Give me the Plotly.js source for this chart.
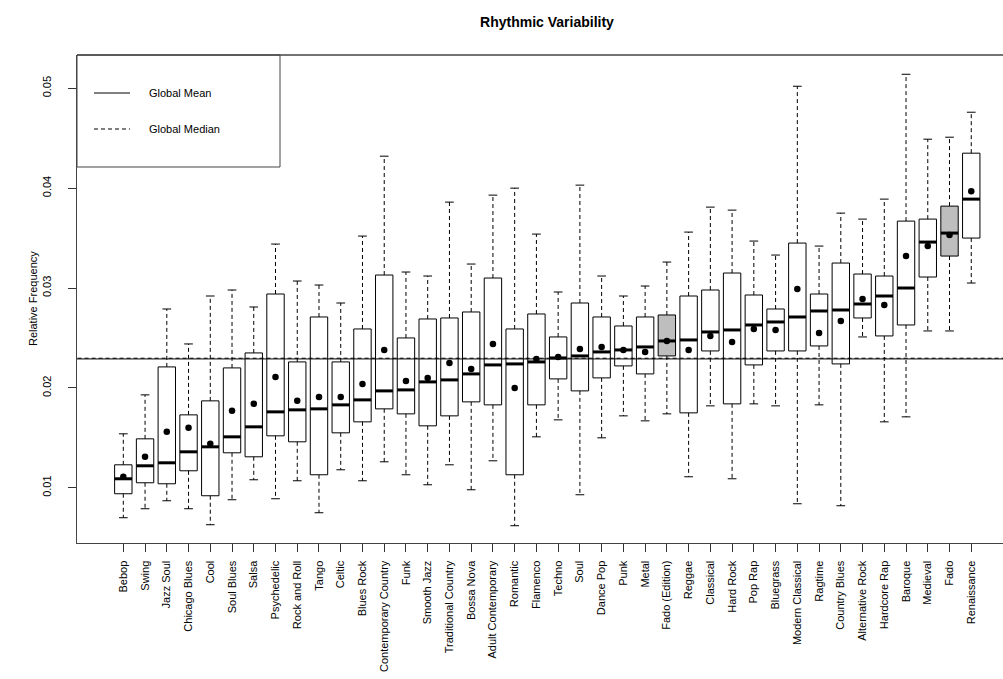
<!DOCTYPE html>
<html>
<head>
<meta charset="utf-8">
<script src="https://cdn.plot.ly/plotly-3.0.1.min.js"></script>
<style>
  html, body { margin: 0; padding: 0; background: #fff; overflow: hidden; }
  #chart { width: 1003px; height: 679px; }
</style>
</head>
<body>
<div id="chart"></div>
<script>
// ---- data ----
const categories = ["Bebop","Swing","Jazz Soul","Chicago Blues","Cool","Soul Blues","Salsa","Psychedelic",
  "Rock and Roll","Tango","Celtic","Blues Rock","Contemporary Country","Funk","Smooth Jazz",
  "Traditional Country","Bossa Nova","Adult Contemporary","Romantic","Flamenco","Techno","Soul",
  "Dance Pop","Punk","Metal","Fado (Edition)","Reggae","Classical","Hard Rock","Pop Rap","Bluegrass",
  "Modern Classical","Ragtime","Country Blues","Alternative Rock","Hardcore Rap","Baroque","Medieval",
  "Fado","Renaissance"];
const lowerWhisker = [0.0070,0.0079,0.0087,0.0079,0.0063,0.0088,0.0108,0.0089,0.0107,0.0075,0.0118,0.0107,0.0126,0.0113,0.0103,
  0.0123,0.0098,0.0127,0.0062,0.0151,0.0168,0.0093,0.0150,0.0172,0.0167,0.0174,0.0111,0.0182,0.0109,0.0184,0.0182,
  0.0084,0.0183,0.0082,0.0251,0.0166,0.0171,0.0257,0.0257,0.0305];
const q1 = [0.0094,0.0105,0.0104,0.0117,0.0092,0.0135,0.0131,0.0152,0.0146,0.0113,0.0155,0.0166,0.0179,0.0174,0.0162,
  0.0172,0.0186,0.0183,0.0113,0.0183,0.0209,0.0197,0.0210,0.0222,0.0214,0.0232,0.0175,0.0237,0.0184,0.0223,0.0237,
  0.0237,0.0242,0.0224,0.0270,0.0252,0.0263,0.0311,0.0332,0.0350];
const medians = [0.0109,0.0122,0.0125,0.0136,0.0141,0.0151,0.0161,0.0176,0.0178,0.0179,0.0183,0.0188,0.0197,0.0198,0.0206,
  0.0208,0.0214,0.0223,0.0224,0.0226,0.0230,0.0232,0.0236,0.0238,0.0241,0.0247,0.0248,0.0256,0.0258,0.0263,0.0266,
  0.0271,0.0277,0.0278,0.0284,0.0292,0.0300,0.0346,0.0355,0.0389];
const q3 = [0.0123,0.0149,0.0221,0.0173,0.0187,0.0220,0.0235,0.0294,0.0226,0.0271,0.0226,0.0259,0.0313,0.0250,0.0269,
  0.0270,0.0276,0.0310,0.0259,0.0274,0.0251,0.0285,0.0271,0.0262,0.0271,0.0273,0.0292,0.0298,0.0315,0.0293,0.0279,
  0.0345,0.0294,0.0325,0.0314,0.0312,0.0367,0.0369,0.0382,0.0435];
const upperWhisker = [0.0154,0.0193,0.0279,0.0244,0.0292,0.0298,0.0281,0.0344,0.0307,0.0303,0.0285,0.0352,0.0432,0.0316,0.0312,
  0.0386,0.0324,0.0393,0.0400,0.0354,0.0296,0.0403,0.0312,0.0292,0.0302,0.0326,0.0356,0.0381,0.0378,0.0347,0.0333,
  0.0502,0.0342,0.0375,0.0369,0.0389,0.0514,0.0449,0.0451,0.0476];
const means = [0.0111,0.0131,0.0156,0.0160,0.0144,0.0177,0.0184,0.0211,0.0187,0.0191,0.0191,0.0204,0.0238,0.0207,0.0210,
  0.0225,0.0219,0.0244,0.0200,0.0229,0.0231,0.0239,0.0241,0.0238,0.0236,0.0247,0.0238,0.0252,0.0246,0.0259,0.0258,
  0.0299,0.0255,0.0267,0.0289,0.0283,0.0332,0.0342,0.0353,0.0397];
const highlighted = ["Fado (Edition)", "Fado"];
const globalMean = 0.0229;
const globalMedian = 0.02297;
const yTickValues = [0.01, 0.02, 0.03, 0.04, 0.05];
const yTickLabels = ["0.01", "0.02", "0.03", "0.04", "0.05"];

// ---- build traces ----
const FONT = "Liberation Sans, Arial, Helvetica, sans-serif";
const idx = categories.map((c, i) => i);
const boxW = 0.8, capW = 0.4;

const boxes = {
  type: "bar", x: idx, base: q1, y: q3.map((v, i) => v - q1[i]), width: boxW,
  marker: { color: categories.map(c => highlighted.includes(c) ? "#bebebe" : "#ffffff"),
            line: { color: "#000", width: 1 } },
  hoverinfo: "skip", showlegend: false
};

const wx = [], wy = [], cx = [], cy = [], mx = [], my = [];
idx.forEach(i => {
  wx.push(i, i, null, i, i, null);
  wy.push(q3[i], upperWhisker[i], null, q1[i], lowerWhisker[i], null);
  cx.push(i - capW / 2, i + capW / 2, null, i - capW / 2, i + capW / 2, null);
  cy.push(upperWhisker[i], upperWhisker[i], null, lowerWhisker[i], lowerWhisker[i], null);
  mx.push(i - boxW / 2, i + boxW / 2, null);
  my.push(medians[i], medians[i], null);
});
const whiskers = { type: "scatter", mode: "lines", x: wx, y: wy,
  line: { color: "#000", width: 1, dash: "4px,3px" }, hoverinfo: "skip", showlegend: false };
const caps = { type: "scatter", mode: "lines", x: cx, y: cy,
  line: { color: "#000", width: 1 }, hoverinfo: "skip", showlegend: false };
const meds = { type: "scatter", mode: "lines", x: mx, y: my,
  line: { color: "#000", width: 3 }, hoverinfo: "skip", showlegend: false };
const meanPts = { type: "scatter", mode: "markers", x: idx, y: means,
  marker: { color: "#000", size: 6.5, symbol: "circle" }, hoverinfo: "skip", showlegend: false };
const gMean = { type: "scatter", mode: "lines", x: [-5, 45], y: [globalMean, globalMean],
  line: { color: "#000", width: 1 }, hoverinfo: "skip", showlegend: false };
const gMed = { type: "scatter", mode: "lines", x: [-5, 45], y: [globalMedian, globalMedian],
  line: { color: "#000", width: 1, dash: "4px,3px" }, hoverinfo: "skip", showlegend: false };

// ---- layout ----
const L = 77, T = 55, R = 1003, B = 543;
const pw = R - L, ph = B - T;
const px2x = p => (p - L) / pw;
const px2y = p => 1 - (p - T) / ph;

const layout = {
  width: 1003, height: 679,
  margin: { l: L, r: 0, t: T, b: 679 - B, pad: 0 },
  paper_bgcolor: "#fff", plot_bgcolor: "#fff",
  font: { family: FONT, size: 11, color: "#000" },
  showlegend: false,
  barmode: "overlay",
  title: { text: "<b>Rhythmic Variability</b>", font: { family: FONT, size: 14, color: "#000" },
           xref: "container", x: 547 / 1003, xanchor: "center", yref: "container", y: 1 - 22 / 679, yanchor: "middle" },
  xaxis: {
    type: "linear", range: [-2.13, 40.46], tickmode: "array", tickvals: idx, ticktext: categories,
    tickangle: -90, ticks: "outside", ticklen: 8, tickcolor: "#333", tickwidth: 1, ticklabelstandoff: 4,
    showline: true, linecolor: "#444", linewidth: 1.3, showgrid: false, zeroline: false,
    automargin: false, tickfont: { family: FONT, size: 11, color: "#000" }, fixedrange: true
  },
  yaxis: {
    range: [0.00447, 0.05333], tickmode: "array", tickvals: yTickValues, ticktext: yTickLabels,
    tickangle: -90, ticks: "outside", ticklen: 8, tickcolor: "#333", tickwidth: 1, ticklabelstandoff: 12,
    showline: true, linecolor: "#444", linewidth: 1.3, showgrid: false, zeroline: false,
    automargin: false, tickfont: { family: FONT, size: 11, color: "#000" }, fixedrange: true
  },
  shapes: [
    { type: "line", xref: "paper", yref: "paper", x0: 0, x1: 1.05, y0: 1, y1: 1, line: { color: "#444", width: 1.3 } },
    { type: "rect", xref: "paper", yref: "paper", x0: 0, x1: px2x(280), y0: px2y(167), y1: 1,
      line: { color: "#444", width: 1 }, fillcolor: "rgba(0,0,0,0)" },
    { type: "line", xref: "paper", yref: "paper", x0: px2x(94), x1: px2x(130), y0: px2y(93), y1: px2y(93),
      line: { color: "#000", width: 1 } },
    { type: "line", xref: "paper", yref: "paper", x0: px2x(94), x1: px2x(130), y0: px2y(129), y1: px2y(129),
      line: { color: "#000", width: 1, dash: "4px,3px" } }
  ],
  annotations: [
    { text: "Global Mean", xref: "paper", yref: "paper", x: px2x(147), y: px2y(93), xanchor: "left", yanchor: "middle",
      showarrow: false, font: { family: FONT, size: 11, color: "#000" } },
    { text: "Global Median", xref: "paper", yref: "paper", x: px2x(147), y: px2y(129), xanchor: "left", yanchor: "middle",
      showarrow: false, font: { family: FONT, size: 11, color: "#000" } },
    { text: "Relative Frequency", xref: "paper", yref: "paper", x: px2x(33), y: 0.5, xanchor: "center", yanchor: "middle",
      textangle: -90, showarrow: false, font: { family: FONT, size: 11, color: "#000" } }
  ]
};

Plotly.newPlot("chart", [boxes, whiskers, caps, meds, meanPts, gMean, gMed], layout,
  { staticPlot: true, displayModeBar: false });
</script>
</body>
</html>
